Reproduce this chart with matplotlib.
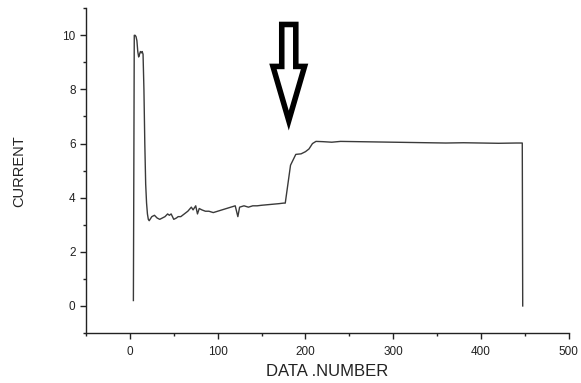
# ============================================================================
# LIBRARY IMPORTS
# ============================================================================
import matplotlib
matplotlib.use("Agg")
import matplotlib.pyplot as plt
from matplotlib.ticker import MultipleLocator
from matplotlib.patches import FancyArrow

plt.rcParams['font.family'] = ['Liberation Sans', 'DejaVu Sans']

# ============================================================================
# DATA
# ============================================================================
data_number = [
    4, 4.5, 5, 6, 7, 8, 9, 10, 11, 12, 13, 14, 15, 16, 17, 18, 19, 20, 21, 22,
    25, 28, 31, 34, 37, 40, 43, 45, 47, 50, 53, 55, 58, 62, 66, 70, 72, 75,
    77, 79, 82, 86, 90, 95, 100, 105, 110, 115, 120, 123, 125, 130, 135,
    140, 145, 150, 160, 170, 175, 177, 180, 183, 186, 189, 195, 200, 204,
    208, 212, 220, 230, 240, 260, 280, 300, 320, 340, 360, 380, 400, 420,
    440, 447, 447.5,
]
current = [
    0.2, 5.0, 10.0, 10.0, 9.95, 9.8, 9.4, 9.2, 9.3, 9.4, 9.35, 9.4, 9.3, 8.0,
    6.0, 4.5, 3.8, 3.4, 3.2, 3.15,
    3.3, 3.35, 3.25, 3.2, 3.25, 3.3, 3.4, 3.35, 3.4, 3.2, 3.25, 3.3, 3.3,
    3.4, 3.5, 3.65, 3.55, 3.7,
    3.4, 3.6, 3.55, 3.5, 3.5, 3.45, 3.5, 3.55, 3.6, 3.65, 3.7, 3.3, 3.65,
    3.7, 3.65,
    3.7, 3.7, 3.72, 3.75, 3.78, 3.8, 3.8, 4.5, 5.2, 5.4, 5.6, 5.62, 5.7, 5.8,
    6.0, 6.08, 6.07, 6.05, 6.08, 6.07, 6.06, 6.05, 6.04, 6.03, 6.02, 6.03,
    6.02, 6.01,
    6.02, 6.02, 0.0,
]

# Arrow marking the step (data coordinates)
arrow_x = 181
arrow_top = 10.4
arrow_tip = 6.85
arrow_shaft_w = 16
arrow_head_w = 36
arrow_head_len = 2.0

# ============================================================================
# PLOT
# ============================================================================
fig = plt.figure(figsize=(5.81, 3.83), dpi=100)
ax = fig.add_axes([0.148, 0.1305, 0.831, 0.848])

ax.plot(data_number, current, color='#3a3a3a', linewidth=1.0)

arrow = FancyArrow(
    arrow_x, arrow_top, 0, arrow_tip - arrow_top,
    width=arrow_shaft_w, head_width=arrow_head_w, head_length=arrow_head_len,
    length_includes_head=True, facecolor='white', edgecolor='black',
    linewidth=4, joinstyle='miter', transform=ax.transData, zorder=5,
)
ax.add_patch(arrow)

# ============================================================================
# AXES FORMATTING
# ============================================================================
ax.set_xlim(-50, 500)
ax.set_ylim(-1, 11)
ax.xaxis.set_major_locator(MultipleLocator(100))
ax.xaxis.set_minor_locator(MultipleLocator(50))
ax.yaxis.set_major_locator(MultipleLocator(2))
ax.yaxis.set_minor_locator(MultipleLocator(1))

for side in ['top', 'right']:
    ax.spines[side].set_visible(False)
for side in ['left', 'bottom']:
    ax.spines[side].set_linewidth(1.0)
    ax.spines[side].set_color('#222222')

ax.tick_params(which='major', direction='out', length=4, width=1,
               labelsize=8.5, colors='#222222')
ax.tick_params(axis='x', which='major', pad=5)
ax.tick_params(which='minor', direction='out', length=2.5, width=1,
               colors='#222222')

ax.set_xlabel('DATA .NUMBER', fontsize=12, color='#222222', labelpad=5)
ax.set_ylabel('CURRENT', fontsize=10.5, color='#222222', labelpad=26)

plt.savefig('out.png', dpi=100, facecolor='white')
